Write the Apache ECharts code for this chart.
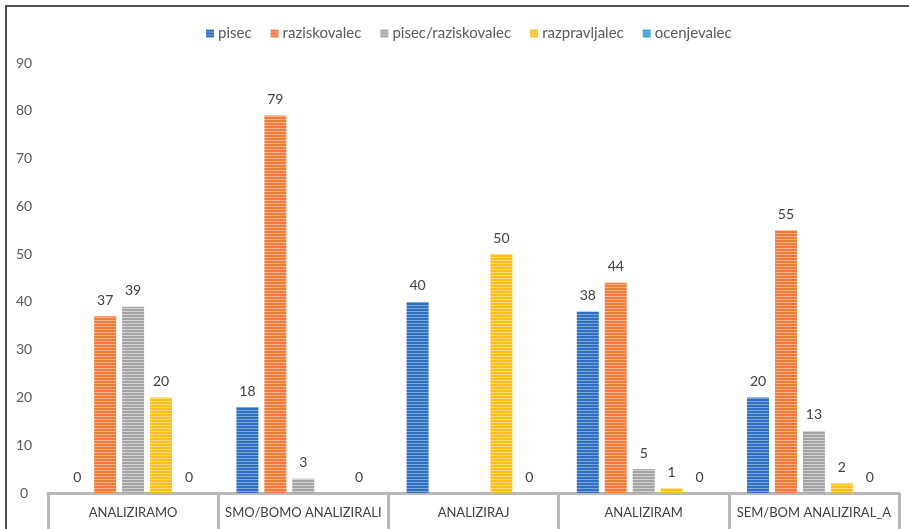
<!DOCTYPE html>
<html>
<head>
<meta charset="utf-8">
<script src="https://cdn.jsdelivr.net/npm/echarts@6/dist/echarts.min.js"></script>
<style>
  html, body { margin: 0; padding: 0; background: #fff; }
  #wrap { position: relative; width: 909px; height: 529px; overflow: hidden; }
  #chart { position: absolute; left: 0; top: 0; width: 909px; height: 529px; }
  #frame { position: absolute; left: 5px; top: 5px; width: 920px; height: 540px;
           border-top: 2px solid #505050; border-left: 2px solid #505050; pointer-events: none; }
</style>
</head>
<body>
<div id="wrap">
  <div id="chart"></div>
  <div id="frame"></div>
</div>
<script>
// Categories and counts per role
const categories = ['ANALIZIRAMO', 'SMO/BOMO ANALIZIRALI', 'ANALIZIRAJ', 'ANALIZIRAM', 'SEM/BOM ANALIZIRAL_A'];
const seriesNames = ['pisec', 'raziskovalec', 'pisec/raziskovalec', 'razpravljalec', 'ocenjevalec'];
const pisec = [0, 18, 40, 38, 20];
const raziskovalec = [37, 79, null, 44, 55];
const pisecRaziskovalec = [39, 3, null, 5, 13];
const razpravljalec = [20, null, 50, 1, 2];
const ocenjevalec = [0, 0, 0, 0, 0];
const yTicks = [0, 10, 20, 30, 40, 50, 60, 70, 80, 90];

const baseColors = ['#2f6fc0', '#ef7b3a', '#a3a3a3', '#fbbd1a', '#2e9ad8'];
const lightColors = ['#7fa6d9', '#f6b088', '#d2d2d2', '#fddb85', '#86c3ea'];

// Horizontal stripe fill for the bars
function stripes(base, light) {
  const c = document.createElement('canvas');
  c.width = 4; c.height = 3;
  const g = c.getContext('2d');
  g.fillStyle = base; g.fillRect(0, 0, 4, 3);
  g.fillStyle = light; g.fillRect(0, 2, 4, 1);
  return { image: c, repeat: 'repeat' };
}

const values = [pisec, raziskovalec, pisecRaziskovalec, razpravljalec, ocenjevalec];
const font = 'Lato, "Open Sans", sans-serif';

const chart = echarts.init(document.getElementById('chart'), null, { renderer: 'canvas' });
chart.setOption({
  animation: false,
  textStyle: { fontFamily: font },
  legend: {
    top: 21,
    left: 201,
    itemWidth: 8,
    itemHeight: 8,
    itemGap: 19,
    icon: 'rect',
    textStyle: { color: '#595959', fontSize: 15, fontFamily: font, padding: [0, 0, 0, -1] },
    data: seriesNames
  },
  grid: { left: 48, right: 10, top: 63, bottom: 36, containLabel: false },
  xAxis: {
    type: 'category',
    data: categories,
    axisLine: { lineStyle: { color: '#b8b8b8', width: 3 } },
    axisTick: { show: true, interval: 0, length: 40, lineStyle: { color: '#b8b8b8', width: 3 } },
    axisLabel: { interval: 0, color: '#404040', fontSize: 13, margin: 13, fontFamily: font }
  },
  yAxis: {
    type: 'value',
    min: 0,
    max: 90,
    interval: 10,
    axisLine: { show: false },
    axisTick: { show: false },
    splitLine: { show: false },
    axisLabel: {
      color: '#595959', fontSize: 14, align: 'center', margin: 24, fontFamily: font,
      formatter: v => yTicks.includes(v) ? String(v) : ''
    }
  },
  series: seriesNames.map((name, i) => ({
    name,
    type: 'bar',
    data: values[i],
    barWidth: 22,
    barGap: '27%',
    itemStyle: { color: stripes(baseColors[i], lightColors[i]) },
    label: {
      show: true, position: 'top', distance: 9,
      color: '#404040', fontSize: 14, fontFamily: font
    }
  }))
});
</script>
</body>
</html>
